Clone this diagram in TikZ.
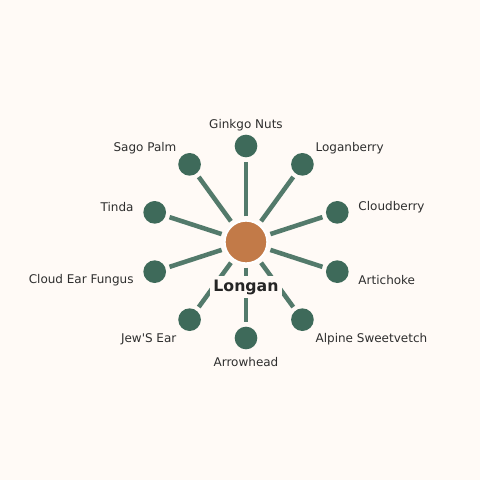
\documentclass[tikz,border=0pt]{standalone}
\usepackage{fontspec}
\setmainfont{DejaVu Sans}

\definecolor{bgcream}{HTML}{FFFAF6}
\definecolor{spokegreen}{HTML}{537A6B}
\definecolor{leafgreen}{HTML}{3E6A5A}
\definecolor{hubbrown}{HTML}{C27A48}
\definecolor{labelgray}{HTML}{2E2E2E}

\tikzset{
    leaf/.style={circle, fill=leafgreen, inner sep=0pt, minimum size=17},
    hub/.style={circle, fill=hubbrown, draw=white, line width=1.5pt, inner sep=0pt, minimum size=32},
    spoke/.style={color=spokegreen, line width=3.4pt, shorten <=2.5, shorten >=3},
    leaflabel/.style={text=labelgray, font=\fontsize{9}{10}\selectfont, inner sep=0pt, yshift=-1.2pt},
}

\begin{document}
\begin{tikzpicture}[x=0.75pt, y=0.75pt]

    % background and picture frame
    \fill[bgcream] (-246, -238) rectangle (234, 242);

    % hub and leaves
    \node[hub] (longan) at (0, 0) {};

    \node[leaf] (ginkgo) at (90:96) {};
    \node[leaf] (loganberry) at (54:96) {};
    \node[leaf] (cloudberry) at (18:96) {};
    \node[leaf] (artichoke) at (-18:96) {};
    \node[leaf] (sweetvetch) at (-54:96) {};
    \node[leaf] (arrowhead) at (-90:96) {};
    \node[leaf] (jewsear) at (-126:96) {};
    \node[leaf] (cloudear) at (-162:96) {};
    \node[leaf] (tinda) at (162:96) {};
    \node[leaf] (sagopalm) at (126:96) {};

    % spokes
    \draw[spoke] (longan) -- (ginkgo);
    \draw[spoke] (longan) -- (loganberry);
    \draw[spoke] (longan) -- (cloudberry);
    \draw[spoke] (longan) -- (artichoke);
    \draw[spoke] (longan) -- (sweetvetch);
    \draw[spoke] (longan) -- (arrowhead);
    \draw[spoke] (longan) -- (jewsear);
    \draw[spoke] (longan) -- (cloudear);
    \draw[spoke] (longan) -- (tinda);
    \draw[spoke] (longan) -- (sagopalm);

    % leaf labels
    \node[leaflabel] (ginkgo-text) at (90:118) {Ginkgo Nuts};
    \node[leaflabel, anchor=west] (loganberry-text) at (54:118) {Loganberry};
    \node[leaflabel, anchor=west] (cloudberry-text) at (18:118) {Cloudberry};
    \node[leaflabel, anchor=west] (artichoke-text) at (-18:118) {Artichoke};
    \node[leaflabel, anchor=west] (sweetvetch-text) at (-54:118) {Alpine Sweetvetch};
    \node[leaflabel] (arrowhead-text) at (-90:118) {Arrowhead};
    \node[leaflabel, anchor=east] (jewsear-text) at (-126:118) {Jew\textquotesingle S Ear};
    \node[leaflabel, anchor=east] (cloudear-text) at (-162:118) {Cloud Ear Fungus};
    \node[leaflabel, anchor=east] (tinda-text) at (162:118) {Tinda};
    \node[leaflabel, anchor=east] (sagopalm-text) at (126:118) {Sago Palm};

    % hub label
    \node[fill=bgcream, text=labelgray!80!black, inner sep=2.5pt, font=\bfseries\fontsize{11.8}{13}\selectfont] (longan-text) at (0, -45) {Longan};

\end{tikzpicture}
\end{document}
